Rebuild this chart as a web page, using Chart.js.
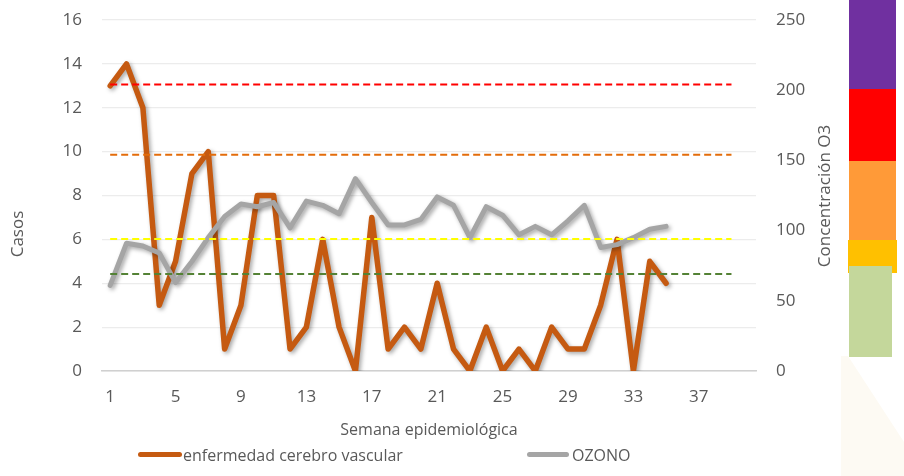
<!DOCTYPE html>
<html>
<head>
<meta charset="utf-8">
<script src="https://cdn.jsdelivr.net/npm/chart.js@4.4.1/dist/chart.umd.min.js"></script>
<style>
body{margin:0;background:#fff;font-family:'Open Sans',sans-serif;}
.wrap{position:relative;width:904px;height:476px;overflow:hidden;background:#fff;}
canvas{position:absolute;left:0;top:0;}
.blk{position:absolute;}
.mark{position:absolute;left:838px;top:352px;width:66px;height:124px;background:#fdfaf3;clip-path:polygon(3px 4px,10px 4px,66px 90px,66px 124px,3px 124px);}
.leg{position:absolute;top:445px;height:20px;line-height:20px;font-size:16px;color:#595959;white-space:nowrap;}
.sw{position:absolute;height:5px;border-radius:3px;top:452px;}
</style>
</head>
<body>
<div class="wrap">
  <div class="mark"></div>
  <canvas id="myChart" width="904" height="476"></canvas>
  <div class="blk" style="left:849px;top:0;width:47px;height:89px;background:#7030a0"></div>
  <div class="blk" style="left:849px;top:89px;width:47px;height:72px;background:#ff0000"></div>
  <div class="blk" style="left:849px;top:161px;width:47px;height:79px;background:#ff9a38"></div>
  <div class="blk" style="left:848px;top:240px;width:49px;height:33px;background:#ffc000"></div>
  <div class="blk" style="left:849px;top:266px;width:43px;height:91px;background:#c4d79b"></div>
  <div id="legend"></div>
</div>
<script>
// semanas epidemiologicas
const weeks = ["1","2","3","4","5","6","7","8","9","10","11","12","13","14","15","16","17","18","19","20",
               "21","22","23","24","25","26","27","28","29","30","31","32","33","34","35","36","37","38","39","40"];

// casos de enfermedad cerebro vascular (eje izquierdo)
const casos = [13,14,12,3,5,9,10,1,3,8,8,1,2,6,2,0,7,1,2,1,4,1,0,2,0,1,0,2,1,1,3,6,0,5,4,null,null,null,null,null];

// concentracion de ozono (eje derecho)
const ozono = [61,91,89,84,63,78,95,110,119,117,120,102,121,118,112,137,120,104,104,108,
               124,118,95,117,111,97,103,97,107,118,88,90,95,101,103,null,null,null,null,null];

// umbrales (lineas punteadas, eje derecho)
const limRojo = [204,204,204,204,204,204,204,204,204,204,204,204,204,204,204,204,204,204,204,204,
                 204,204,204,204,204,204,204,204,204,204,204,204,204,204,204,204,204,204,204,null];
const limNaranja = [154,154,154,154,154,154,154,154,154,154,154,154,154,154,154,154,154,154,154,154,
                    154,154,154,154,154,154,154,154,154,154,154,154,154,154,154,154,154,154,154,null];
const limAmarillo = [94,94,94,94,94,94,94,94,94,94,94,94,94,94,94,94,94,94,94,94,
                     94,94,94,94,94,94,94,94,94,94,94,94,94,94,94,94,94,94,94,null];
const limVerde = [69,69,69,69,69,69,69,69,69,69,69,69,69,69,69,69,69,69,69,69,
                  69,69,69,69,69,69,69,69,69,69,69,69,69,69,69,69,69,69,69,null];

const leftTicks = [0,2,4,6,8,10,12,14,16];
const rightTicks = [0,50,100,150,200,250];

const textColor = '#595959';
Chart.defaults.font.family = "'Open Sans', sans-serif";
Chart.defaults.color = textColor;

// sombra para las dos series principales
const lineShadow = {
    id: 'lineShadow',
    beforeDatasetDraw(chart, args) {
        if (args.index > 1) return;
        const ctx = chart.ctx;
        ctx.save();
        ctx.shadowColor = 'rgba(0,0,0,0.35)';
        ctx.shadowBlur = 4;
        ctx.shadowOffsetX = 2;
        ctx.shadowOffsetY = 2;
    },
    afterDatasetDraw(chart, args) {
        if (args.index > 1) return;
        chart.ctx.restore();
    }
};

// titulos de los ejes verticales
const axisTitles = {
    id: 'axisTitles',
    afterDraw(chart) {
        const ctx = chart.ctx;
        ctx.save();
        ctx.fillStyle = textColor;
        ctx.font = "17px 'Open Sans'";
        ctx.textAlign = 'center';
        ctx.textBaseline = 'middle';
        ctx.translate(18, 234);
        ctx.rotate(-Math.PI / 2);
        ctx.fillText('Casos', 0, 0);
        ctx.restore();

        ctx.save();
        ctx.fillStyle = textColor;
        ctx.font = "17px 'Open Sans'";
        ctx.textAlign = 'center';
        ctx.textBaseline = 'middle';
        ctx.translate(825, 196);
        ctx.rotate(-Math.PI / 2);
        ctx.fillText('Concentración O3', 0, 0);
        ctx.restore();
    }
};

function dashed(data, color) {
    return {
        label: '',
        data: data,
        yAxisID: 'y1',
        borderColor: color,
        borderWidth: 2,
        borderDash: [7, 4],
        pointRadius: 0,
        tension: 0,
        order: 1
    };
}

const ctx = document.getElementById('myChart').getContext('2d');
const chart = new Chart(ctx, {
    type: 'line',
    data: {
        labels: weeks,
        datasets: [
            {
                label: 'enfermedad cerebro vascular',
                data: casos,
                yAxisID: 'y',
                borderColor: '#c55a11',
                borderWidth: 5.5,
                pointRadius: 0,
                tension: 0,
                borderJoinStyle: 'round',
                borderCapStyle: 'round',
                order: 3
            },
            {
                label: 'OZONO',
                data: ozono,
                yAxisID: 'y1',
                borderColor: '#a5a5a5',
                borderWidth: 5,
                pointRadius: 0,
                tension: 0,
                borderJoinStyle: 'round',
                borderCapStyle: 'round',
                order: 2
            },
            dashed(limRojo, '#ff0000'),
            dashed(limNaranja, '#e36c0a'),
            dashed(limAmarillo, '#ffff00'),
            dashed(limVerde, '#548235')
        ]
    },
    options: {
        responsive: false,
        animation: false,
        layout: { padding: { top: 20, left: 0, right: 0, bottom: 0 } },
        plugins: {
            legend: { display: false },
            tooltip: { enabled: false }
        },
        scales: {
            x: {
                offset: true,
                grid: { display: false, drawTicks: false },
                border: { display: true, color: '#d0d0d0', width: 1.5 },
                ticks: {
                    autoSkip: false,
                    maxRotation: 0,
                    padding: 16,
                    font: { size: 17 },
                    callback: function (val, idx) { return idx % 4 === 0 ? weeks[idx] : ''; }
                },
                title: {
                    display: true,
                    text: 'Semana epidemiológica',
                    font: { size: 16 },
                    padding: { top: 0, bottom: 36 }
                },
                afterFit: function (scale) { scale.height = 105; }
            },
            y: {
                position: 'left',
                min: leftTicks[0],
                max: leftTicks[leftTicks.length - 1],
                grid: { color: '#ececec', drawTicks: false, lineWidth: 1.2 },
                border: { display: false },
                ticks: { stepSize: 2, padding: 20, font: { size: 17 } },
                afterFit: function (scale) { scale.width = 102; scale.paddingTop = 10; }
            },
            y1: {
                position: 'right',
                min: rightTicks[0],
                max: rightTicks[rightTicks.length - 1],
                grid: { display: false, drawTicks: false },
                border: { display: false },
                ticks: { stepSize: 50, padding: 20, font: { size: 17 } },
                afterFit: function (scale) { scale.width = 148; scale.paddingTop = 10; }
            }
        }
    },
    plugins: [lineShadow, axisTitles]
});

// leyenda en html
const legendBox = document.getElementById('legend');
const legendItems = [
    { text: chart.data.datasets[0].label, color: '#c55a11', sw: 138, w: 44, tx: 183 },
    { text: chart.data.datasets[1].label, color: '#a5a5a5', sw: 527, w: 42, tx: 572 }
];
legendItems.forEach(item => {
    const sw = document.createElement('div');
    sw.className = 'sw';
    sw.style.left = item.sw + 'px';
    sw.style.width = item.w + 'px';
    sw.style.background = item.color;
    legendBox.appendChild(sw);
    const t = document.createElement('div');
    t.className = 'leg';
    t.style.left = item.tx + 'px';
    t.textContent = item.text;
    legendBox.appendChild(t);
});
</script>
</body>
</html>
